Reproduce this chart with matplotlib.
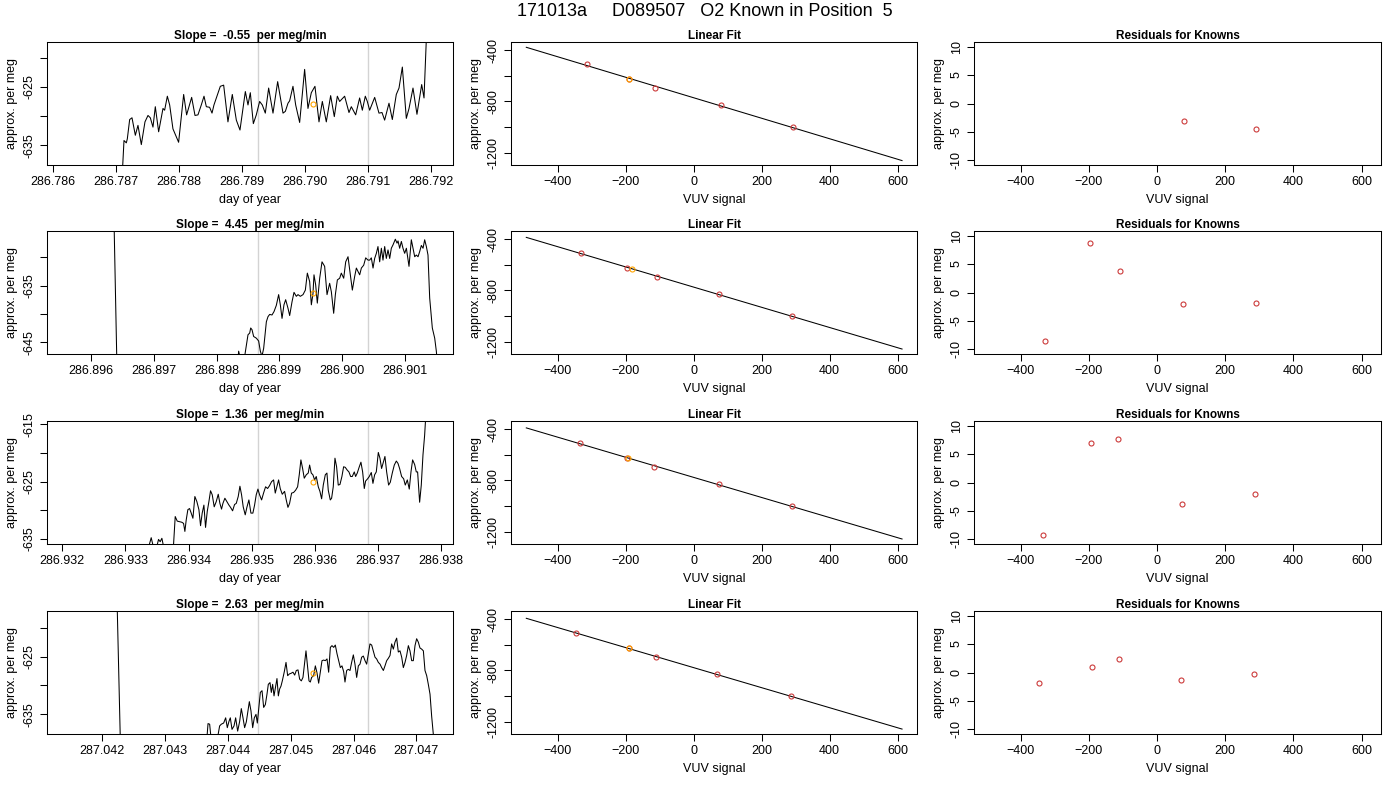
import numpy as np
import matplotlib
matplotlib.use("Agg")
import matplotlib.pyplot as plt

plt.rcParams['font.family'] = ['Liberation Sans', 'DejaVu Sans']

# ---------------- text ----------------
suptitle = "171013a     D089507   O2 Known in Position  5"
slopes = ["-0.55", "4.45", "1.36", "2.63"]

# ---------------- left column: time series (day offsets in 1e-3 day) ----------------
day_base = [286.787, 286.896, 286.932, 287.042]

t1 = [0.085,0.122,0.159,0.175,0.212,0.249,0.302,0.344,0.397,0.455,0.503,0.540,0.582,0.619,0.672,0.741,0.767,0.810,0.847,0.899,0.989,1.069,1.116,1.196,1.249,1.296,1.349,1.392,1.429,1.481,1.519,1.550,1.651,1.704,1.772,1.841,1.905,1.963,2.048,2.090,2.127,2.175,2.222,2.275,2.317,2.365,2.418,2.487,2.561,2.646,2.683,2.725,2.751,2.804,2.847,2.910,2.952,2.989,3.042,3.095,3.153,3.217,3.270,3.333,3.402,3.460,3.508,3.545,3.624,3.693,3.730,3.799,3.862,3.905,3.952,3.984,4.021,4.101,4.169,4.217,4.259,4.328,4.381,4.444,4.487,4.540,4.603,4.646,4.709,4.772,4.847,4.884,4.931]
v1 = [-642,-634.2,-634.6,-633.9,-630.6,-630.3,-633.3,-631.6,-634.9,-631.0,-629.9,-630.3,-631.9,-628.4,-632.7,-628.7,-629.0,-626.6,-628.1,-632.2,-634.5,-626.3,-629.8,-626.8,-629.9,-629.8,-628.1,-626.6,-628.4,-628.5,-629.5,-628.1,-624.9,-624.7,-631.0,-626.3,-630.7,-632.4,-625.8,-628.1,-626.0,-631.3,-629.8,-627.5,-628.1,-629.5,-625.2,-629.5,-624.1,-629.5,-629.2,-627.8,-627.4,-624.9,-628.1,-631.1,-626.3,-622.0,-628.7,-626.0,-624.9,-631.0,-627.5,-631.0,-626.5,-630.1,-626.6,-627.5,-626.6,-629.4,-628.4,-629.8,-626.9,-629.0,-626.6,-627.5,-629.0,-626.8,-629.5,-629.4,-630.7,-627.8,-630.6,-626.3,-625.2,-621.6,-630.4,-628.7,-625.2,-629.7,-624.6,-626.9,-614]

t2 = [0.356,0.410,2.340,2.351,2.378,2.431,2.447,2.500,2.527,2.543,2.564,2.590,2.633,2.670,2.697,2.723,2.750,2.793,2.819,2.846,2.883,2.915,2.952,2.989,3.016,3.043,3.074,3.101,3.138,3.165,3.202,3.234,3.271,3.298,3.335,3.378,3.415,3.447,3.484,3.511,3.537,3.553,3.580,3.606,3.644,3.681,3.723,3.761,3.803,3.830,3.867,3.894,3.926,3.963,3.989,4.027,4.059,4.096,4.133,4.165,4.202,4.229,4.255,4.282,4.309,4.346,4.378,4.415,4.441,4.468,4.495,4.521,4.548,4.574,4.601,4.628,4.654,4.681,4.707,4.734,4.761,4.787,4.814,4.851,4.878,4.894,4.920,4.947,4.973,5.000,5.027,5.069,5.106,5.133,5.160,5.186,5.213,5.239,5.266,5.293,5.319,5.346,5.372,5.399,5.441,5.479,5.505,5.532]
v2 = [-620,-650,-648,-646.6,-648,-648,-647.5,-643.7,-643.4,-642.5,-642.8,-644.0,-644.3,-644.8,-646.6,-647.5,-646.1,-641.4,-640.5,-640.1,-640.2,-639.6,-638.5,-636.6,-638.4,-640.8,-638.4,-637.5,-639.0,-640.3,-637.9,-636.2,-636.9,-636.6,-636.9,-636.6,-635.8,-632.8,-634.3,-638.4,-636.4,-633.1,-634.9,-638.1,-633.7,-630.8,-631.6,-636.6,-634.6,-636.1,-639.9,-636.6,-634.0,-633.7,-632.8,-633.7,-630.8,-629.9,-633.1,-635.8,-633.4,-631.9,-632.5,-633.1,-631.9,-631.4,-630.1,-630.5,-630.5,-630.1,-631.9,-630.2,-629.3,-628.1,-630.8,-628.4,-630.5,-628.1,-630.2,-628.7,-630.2,-628.4,-627.8,-626.8,-627.5,-627.1,-628.4,-627.2,-628.4,-629.3,-628.4,-631.6,-626.9,-628.4,-629.9,-629.6,-629.9,-629.0,-627.9,-628.4,-626.9,-628.1,-629.6,-637.2,-642.5,-644.3,-646.6,-650]

t3 = [1.330,1.372,1.409,1.441,1.499,1.525,1.551,1.578,1.604,1.646,1.741,1.789,1.821,1.858,1.894,1.921,1.942,1.963,1.989,2.016,2.042,2.069,2.100,2.132,2.164,2.190,2.216,2.243,2.269,2.296,2.322,2.348,2.375,2.406,2.438,2.470,2.496,2.522,2.544,2.575,2.607,2.639,2.665,2.697,2.728,2.755,2.786,2.813,2.839,2.865,2.897,2.923,2.955,2.987,3.018,3.045,3.071,3.098,3.124,3.156,3.187,3.219,3.251,3.282,3.314,3.346,3.372,3.398,3.425,3.451,3.483,3.520,3.546,3.573,3.599,3.631,3.662,3.694,3.726,3.752,3.778,3.805,3.831,3.863,3.894,3.916,3.942,3.968,3.995,4.021,4.053,4.079,4.106,4.132,4.164,4.190,4.211,4.243,4.264,4.290,4.317,4.343,4.369,4.396,4.427,4.454,4.480,4.512,4.538,4.565,4.591,4.623,4.644,4.670,4.702,4.728,4.755,4.781,4.802,4.834,4.860,4.892,4.918,4.945,4.971,5.003,5.029,5.055,5.082,5.108,5.135,5.166,5.193,5.224,5.256,5.288,5.314,5.340,5.372,5.404,5.430,5.462,5.493,5.520,5.546,5.578,5.604,5.625,5.657,5.683,5.710,5.736,5.762]
v3 = [-640,-636.3,-634.8,-636.3,-636.3,-635.1,-635.5,-634.9,-636.3,-640,-640,-631.1,-631.9,-632.0,-632.1,-632.3,-633.7,-631.7,-629.9,-629.7,-630.5,-631.4,-627.6,-628.5,-629.9,-632.7,-630.5,-629.1,-633.0,-630.2,-628.5,-626.6,-627.3,-629.4,-628.5,-627.2,-628.8,-629.8,-628.8,-627.9,-628.5,-629.1,-629.5,-630.1,-629.0,-628.8,-627.6,-625.8,-627.3,-629.4,-630.8,-629.5,-628.2,-630.5,-630.5,-629.1,-627.3,-626.3,-627.3,-628.2,-627.0,-625.9,-626.2,-625.7,-625.0,-624.7,-627.0,-625.9,-624.7,-626.2,-627.2,-626.7,-628.2,-629.5,-628.8,-627.0,-626.9,-626.5,-625.9,-623.8,-621.2,-622.7,-624.4,-623.8,-623.5,-622.1,-623.5,-623.8,-624.7,-624.1,-625.9,-626.7,-628.0,-625.6,-623.8,-623.5,-626.5,-628.2,-627.9,-625.9,-620.9,-622.4,-625.6,-625.5,-624.1,-622.4,-622.5,-623.0,-623.3,-624.1,-624.1,-623.3,-624.1,-623.5,-622.4,-621.6,-623.3,-626.2,-624.9,-624.5,-624.1,-623.4,-625.3,-623.8,-623.3,-619.9,-620.9,-622.7,-621.6,-620.6,-623.3,-625.6,-625.1,-623.5,-622.1,-621.4,-621.8,-622.7,-624.1,-624.5,-625.6,-624.7,-626.3,-623.3,-621.2,-622.0,-623.3,-623.3,-628.6,-625.6,-620.3,-616.9,-612]

t4 = [0.234,0.292,1.645,1.683,1.709,1.730,1.815,1.842,1.868,1.895,1.932,1.964,1.990,2.017,2.038,2.065,2.097,2.123,2.155,2.187,2.213,2.240,2.266,2.293,2.320,2.341,2.367,2.394,2.420,2.447,2.468,2.489,2.516,2.543,2.569,2.596,2.622,2.643,2.670,2.691,2.712,2.734,2.760,2.781,2.803,2.824,2.845,2.866,2.898,2.925,2.951,2.978,3.004,3.036,3.063,3.089,3.116,3.142,3.169,3.195,3.222,3.243,3.270,3.291,3.312,3.333,3.365,3.392,3.418,3.445,3.471,3.498,3.524,3.551,3.578,3.604,3.631,3.657,3.684,3.710,3.737,3.763,3.790,3.816,3.843,3.864,3.891,3.917,3.944,3.970,3.997,4.023,4.050,4.077,4.103,4.130,4.156,4.183,4.209,4.236,4.262,4.289,4.315,4.342,4.368,4.395,4.422,4.448,4.475,4.501,4.528,4.554,4.581,4.607,4.634,4.660,4.687,4.713,4.740,4.767,4.793,4.820,4.846,4.873,4.899,4.926,4.952,4.979,5.005,5.032,5.058,5.085,5.112,5.138,5.165,5.191,5.218,5.244,5.271,5.297]
v4 = [-615,-642,-642,-636.6,-636.7,-639,-639,-638.6,-637.0,-636.7,-636.5,-635.6,-637.3,-636.2,-635.6,-637.6,-637.0,-635.6,-637.9,-636.2,-634.0,-635.6,-637.3,-636.3,-634.4,-632.8,-634.4,-637.3,-635.6,-635.0,-636.5,-634.1,-631.2,-630.9,-633.8,-633.3,-631.5,-629.8,-629.5,-631.2,-629.8,-631.8,-630.1,-628.8,-631.8,-630.6,-630.1,-629.2,-627.6,-626.0,-628.3,-628.0,-627.9,-627.7,-628.2,-627.4,-627.3,-628.9,-629.2,-628.6,-626.0,-624.0,-626.9,-629.2,-629.4,-628.6,-628.3,-626.6,-627.8,-629.6,-627.7,-625.7,-625.6,-625.7,-625.4,-627.7,-623.4,-623.1,-623.4,-623.0,-624.5,-625.7,-626.9,-626.6,-627.6,-629.4,-627.4,-627.2,-627.4,-626.0,-624.7,-626.3,-628.6,-626.6,-626.3,-625.1,-624.9,-625.7,-626.3,-624.5,-622.8,-623.0,-624.0,-625.1,-625.4,-626.0,-626.3,-626.9,-627.4,-626.6,-625.7,-625.3,-624.8,-622.8,-623.7,-622.5,-621.8,-624.2,-624.0,-625.1,-626.9,-626.0,-624.8,-623.1,-624.0,-625.7,-625.7,-623.1,-621.9,-622.5,-623.5,-623.7,-624.0,-627.4,-628.3,-629.8,-631.5,-635.3,-638.5,-642]

series_t = [t1, t2, t3, t4]
series_v = [v1, v2, v3, v4]

# averaging window (gray lines) and sample mean (orange), day of year
window = [(286.789249, 286.790995), (286.898660, 286.900415),
          (286.935098, 286.936839), (287.044479, 287.046230)]
mean_day = [286.790122, 286.899537, 286.935968, 287.045355]
mean_val = [-627.9, -636.4, -625.1, -627.8]

left_xlim = [(286.7859, 286.792344), (286.895293, 286.901771),
             (286.93176, 286.938185), (287.041119, 287.047584)]
left_ylim = [(-638.4, -617.3), (-647.1, -625.35), (-635.9, -614.4), (-638.4, -617.1)]
left_xticks = [[286.786, 286.787, 286.788, 286.789, 286.790, 286.791, 286.792],
               [286.896, 286.897, 286.898, 286.899, 286.900, 286.901],
               [286.932, 286.933, 286.934, 286.935, 286.936, 286.937, 286.938],
               [287.042, 287.043, 287.044, 287.045, 287.046, 287.047]]
left_yticks = [[-620, -625, -630, -635], [-630, -635, -640, -645],
               [-615, -620, -625, -630, -635], [-620, -625, -630, -635]]
left_ylabels = [["", "-625", "", "-635"], ["", "-635", "", "-645"],
                ["-615", "", "-625", "", "-635"], ["", "-625", "", "-635"]]

# ---------------- middle column: linear fit of knowns ----------------
known_y = [-505, -628, -693, -830, -1002]
known_x = [[-313, -191, -113, 80, 292],
           [-330, -195, -107, 76, 290],
           [-334, -195, -116, 75, 289],
           [-347, -191, -112, 70, 285]]
sample_x = [-190, -181, -194, -191]
sample_y = [-627.9, -636.0, -625.1, -627.8]
fit_x_range = [-492, 613]

# ---------------- right column: residuals ----------------
resid_x = [[78, 291], [-330, -196, -108, 76, 290],
           [-334, -195, -115, 74, 288], [-347, -191, -112, 69, 284]]
resid_y = [[-3.0, -4.4], [-8.6, 8.7, 3.8, -2.1, -1.9],
           [-9.3, 6.9, 7.7, -3.7, -2.0], [-1.9, 1.0, 2.35, -1.4, -0.35]]

# ---------------- figure ----------------
W, H = 1400, 800
fig = plt.figure(figsize=(W / 100, H / 100), dpi=100)
fig.text(705 / W, 1 - 12 / H, suptitle, ha='center', va='center', fontsize=13)

col_x = [47, 511, 974]
col_w = [406, 406, 407]
row_top = [42, 231, 421, 611]
row_h = 123

FS = 9
RED = '#cc3b3b'
ORANGE = '#ffa500'


def style(ax):
    for s in ax.spines.values():
        s.set_linewidth(0.75)
        s.set_color('black')
    ax.tick_params(direction='out', length=5, width=0.75, labelsize=FS, pad=3)


def make_ax(col, row):
    x0 = col_x[col] / W
    y0 = 1 - (row_top[row] + row_h) / H
    return fig.add_axes([x0, y0, col_w[col] / W, row_h / H])


for r in range(4):
    # left
    ax = make_ax(0, r)
    days = day_base[r] + np.array(series_t[r]) * 1e-3
    ax.plot(days, series_v[r], color='black', lw=0.75)
    for wx in window[r]:
        ax.axvline(wx, color='#d3d3d3', lw=1.0, zorder=0)
    ax.plot([mean_day[r]], [mean_val[r]], 'o', mfc='none', mec=ORANGE, ms=3.6, mew=0.8)
    ax.set_xlim(*left_xlim[r])
    ax.set_ylim(*left_ylim[r])
    ax.set_xticks(left_xticks[r])
    ax.set_xticklabels(["%.3f" % d for d in left_xticks[r]])
    ax.set_yticks(left_yticks[r])
    ax.set_yticklabels(left_ylabels[r], rotation=90, va='center')
    ax.set_xlabel("day of year", fontsize=FS, labelpad=4)
    ax.set_ylabel("approx. per meg", fontsize=FS, labelpad=4)
    ax.set_title("Slope =  %s  per meg/min" % slopes[r], fontsize=8.5,
                 fontweight='bold', pad=2)
    style(ax)

    # middle
    ax = make_ax(1, r)
    coef = np.polyfit(known_x[r], known_y, 1)
    fx = np.array(fit_x_range)
    ax.plot(fx, np.polyval(coef, fx), color='black', lw=0.75)
    ax.plot(known_x[r], known_y, 'o', mfc='none', mec=RED, ms=3.6, mew=0.8)
    ax.plot([sample_x[r]], [sample_y[r]], 'o', mfc='none', mec=ORANGE, ms=3.6, mew=0.8)
    ax.set_xlim(-537, 657)
    ax.set_ylim(-1297, -335)
    ax.set_xticks([-400, -200, 0, 200, 400, 600])
    ax.set_yticks([-400, -600, -800, -1000, -1200])
    ax.set_yticklabels(["-400", "", "-800", "", "-1200"], rotation=90, va='center')
    ax.set_xlabel("VUV signal", fontsize=FS, labelpad=4)
    ax.set_ylabel("approx. per meg", fontsize=FS, labelpad=4)
    ax.set_title("Linear Fit", fontsize=8.5, fontweight='bold', pad=2)
    style(ax)

    # right
    ax = make_ax(2, r)
    ax.plot(resid_x[r], resid_y[r], 'o', mfc='none', mec=RED, ms=3.6, mew=0.8)
    ax.set_xlim(-537, 657)
    ax.set_ylim(-10.8, 10.8)
    ax.set_xticks([-400, -200, 0, 200, 400, 600])
    ax.set_yticks([-10, -5, 0, 5, 10])
    ax.set_yticklabels(["-10", "-5", "0", "5", "10"], rotation=90, va='center')
    ax.set_xlabel("VUV signal", fontsize=FS, labelpad=4)
    ax.set_ylabel("approx. per meg", fontsize=FS, labelpad=4)
    ax.set_title("Residuals for Knowns", fontsize=8.5, fontweight='bold', pad=2)
    style(ax)

fig.savefig("out.png", dpi=100, facecolor='white')
